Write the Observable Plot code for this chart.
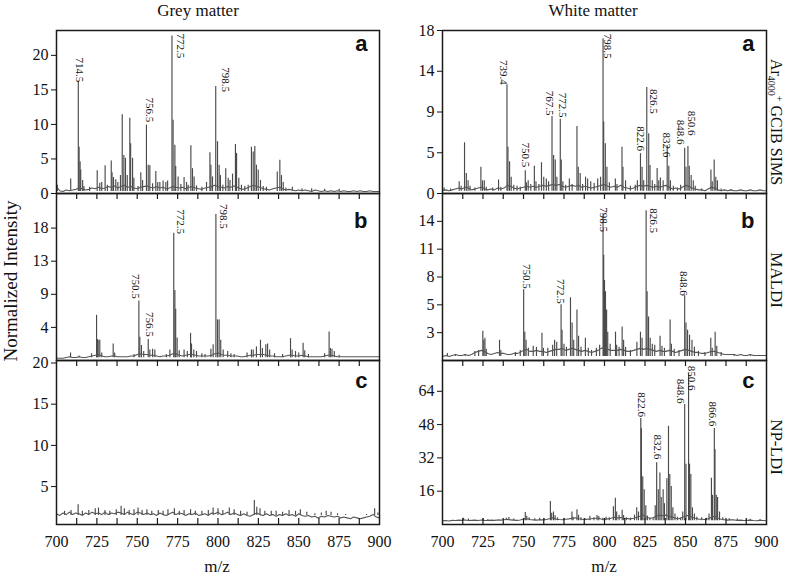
<!DOCTYPE html>
<html><head><meta charset="utf-8">
<script src="https://cdn.jsdelivr.net/npm/d3@7"></script>
<script src="https://cdn.jsdelivr.net/npm/@observablehq/plot@0.6"></script>
<style>
body{margin:0;background:#fff}
#chart{position:relative;width:787px;height:576px;overflow:hidden;background:#fff;font-family:"Liberation Serif","Times New Roman",serif}
</style></head><body><div id="chart"></div>
<script>
// ---------- axis ticks / labels ----------
const xTickValues = [700, 725, 750, 775, 800, 825, 850, 875, 900];
const xTickMarks = [712.5, 725, 737.5, 750, 762.5, 775, 787.5, 800, 812.5, 825, 837.5, 850, 862.5, 875, 887.5];
const mzGrid = d3.range(700, 901, 2); // m/z positions of the baseline trace samples

const greyA_yTicks = [0, 5, 10, 15, 20];
const greyA_yLabels = ["0", "5", "10", "15", "20"];
const greyB_yTicks = [4.4, 8.8, 13.2, 17.6];
const greyB_yLabels = ["4", "9", "13", "18"];
const greyC_yTicks = [5, 10, 15, 20];
const greyC_yLabels = ["5", "10", "15", "20"];
const whiteA_yTicks = [0, 4.5, 9, 13.5, 18];
const whiteA_yLabels = ["0", "5", "9", "14", "18"];
const whiteB_yTicks = [2.75, 5.5, 8.25, 11, 13.75];
const whiteB_yLabels = ["3", "5", "8", "11", "14"];
const whiteC_yTicks = [16, 32, 48, 64];
const whiteC_yLabels = ["16", "32", "48", "64"];

// ---------- Grey matter, a: Ar4000+ GCIB SIMS ----------
const greyA_peaks = [[700.5,1.2],[708.8,2.1],[713.5,16.2],[714.0,6.7],[714.6,4.6],[715.0,3.4],[716.2,1.9],[717,1.0],[720.5,0.9],[725.2,3.3],[726.8,1.5],[728,1.6],[730.1,4.0],[731.5,1.2],[733.9,4.7],[734.4,3.0],[735.3,2.3],[736.7,2.0],[738,1.6],[739.6,2.6],[740.7,11.4],[741.7,5.5],[742.7,5.1],[743.8,2.6],[745.4,10.9],[745.9,7.2],[747.1,5.1],[747.9,2.2],[750.5,1.0],[752.2,3.0],[753.3,1.9],[755.7,9.9],[756.8,4.1],[757.8,4.0],[759.5,1.4],[761.5,3.2],[762.7,1.6],[764,1.6],[766,1.8],[767.7,1.6],[768.8,1.8],[771.5,22.8],[772.2,10.6],[773.3,7.0],[773.8,3.9],[775.3,2.4],[777,1.3],[779,2.3],[780.5,1.6],[781.5,1.2],[783.2,6.9],[784.2,3.6],[785.2,2.4],[786.7,1.1],[790,0.9],[792.9,1.6],[795.0,5.9],[795.6,4.1],[796.6,2.4],[798.6,15.5],[799.7,7.5],[800.7,4.1],[801.5,2.6],[803,1.2],[804.8,3.6],[806.3,2.2],[807.4,1.9],[809,2.8],[810.8,7.1],[811.5,5.8],[812.9,2.2],[814.5,1.2],[816.6,1.0],[818.7,1.2],[820.7,6.7],[821.8,6.0],[822.8,6.8],[823.8,4.1],[824.9,3.4],[826.3,1.9],[828,1.0],[830,0.9],[836.7,3.1],[838.3,4.8],[839.3,2.6],[840.4,1.6],[842,0.8],[846,0.9],[852,0.7],[858,0.7],[866,0.6],[875,0.6]];
const greyA_base = [1.0,0.4,0.3,0.5,0.4,0.5,0.6,0.8,0.7,0.5,0.6,0.8,0.7,0.9,0.7,0.8,1.0,0.9,1.1,0.8,1.0,1.2,0.9,1.0,0.8,0.7,0.9,1.0,1.1,0.9,0.8,1.0,0.8,0.9,0.7,0.8,1.0,0.9,0.8,0.9,0.7,0.9,1.0,0.8,0.7,0.6,0.8,0.9,1.0,1.2,1.0,0.9,0.8,1.0,0.9,1.1,0.9,0.7,0.6,0.8,1.0,1.2,1.0,0.9,0.7,0.6,0.5,0.7,0.8,0.9,0.7,0.5,0.6,0.5,0.4,0.5,0.4,0.5,0.4,0.3,0.5,0.4,0.3,0.4,0.3,0.4,0.3,0.4,0.3,0.4,0.3,0.3,0.4,0.3,0.4,0.3,0.3,0.4,0.3,0.3,0.3];
const greyA_labels = [["714.5",714.1,16.1],["756.5",757.4,10.3],["772.5",776.5,19.6],["798.5",804.8,14.7]];

// ---------- Grey matter, b: MALDI ----------
const greyB_peaks = [[708.7,1.0],[714,0.6],[721.7,0.9],[724.8,6.0],[725.3,2.8],[725.8,2.7],[726.8,2.7],[728,1.0],[735.1,2.2],[736,1.0],[748,0.8],[751.0,7.9],[751.6,3.1],[752.6,2.0],[754,1.2],[756.8,2.8],[757.8,1.4],[759.5,1.5],[760.9,1.4],[768,0.8],[770.2,1.4],[772.6,16.9],[773.3,9.3],[773.8,6.8],[774.7,3.0],[776,1.3],[779,1.4],[781,1.2],[783,3.6],[783.6,2.2],[785,1.4],[786.7,1.2],[790,0.9],[792,0.8],[795.6,1.5],[797,2.1],[798.7,19.4],[799.7,5.4],[800.7,5.4],[801.7,2.7],[803.2,1.4],[806,1.2],[808,0.9],[810,0.8],[818,1.0],[820.7,1.4],[821.8,1.4],[823.8,1.8],[826.3,2.7],[827.5,1.6],[829.6,2.1],[830.7,2.2],[832,1.4],[835,0.9],[840,0.8],[844.9,2.9],[845.9,1.4],[848,1.2],[850,1.0],[852.7,2.3],[853.7,1.3],[856,0.8],[866,0.9],[868.8,3.8],[869.6,1.6],[870.6,1.5],[872,1.2],[875,0.7]];
const greyB_base = [0.3,0.3,0.3,0.4,0.5,0.4,0.4,0.5,0.4,0.4,0.5,0.6,0.7,0.8,0.6,0.5,0.5,0.6,0.6,0.5,0.5,0.5,0.5,0.6,0.6,0.8,0.9,0.8,0.8,0.7,0.7,0.6,0.5,0.6,0.6,0.7,0.9,0.9,0.7,0.6,0.7,0.8,0.8,0.7,0.6,0.6,0.6,0.6,0.7,0.9,1.0,0.8,0.7,0.7,0.6,0.6,0.6,0.5,0.5,0.6,0.7,0.7,0.8,0.8,0.8,0.7,0.6,0.6,0.5,0.5,0.5,0.6,0.7,0.7,0.6,0.6,0.7,0.6,0.5,0.5,0.5,0.5,0.5,0.6,0.7,0.7,0.6,0.5,0.5,0.5,0.5,0.5,0.5,0.5,0.5,0.5,0.5,0.5,0.5,0.5,0.5];
const greyB_labels = [["750.5",749.2,8.2],["756.5",757.9,3.15],["772.5",776.5,16.8],["798.5",803.7,17.5]];

// ---------- Grey matter, c: NP-LDI ----------
const greyC_peaks = [[705,2.0],[709,2.1],[713.4,2.8],[716,2.0],[720,2.1],[724,2.3],[726,2.4],[730,2.1],[733,2.0],[737,2.2],[740,2.6],[742,2.3],[745,2.1],[748,2.2],[750.5,2.4],[753,2.1],[756,2.2],[759,2.0],[763,2.1],[766,2.0],[769,2.2],[773,2.3],[776,2.0],[779,2.1],[783,2.2],[786,2.0],[790,2.0],[794,2.1],[797,2.4],[800,2.3],[803,2.1],[807,2.4],[810,2.2],[814,2.0],[818,1.9],[822.5,3.3],[824,2.5],[826,2.3],[829,2.0],[833,2.0],[836,2.0],[840,1.9],[844,2.1],[848,2.0],[851,2.2],[855,1.9],[860,1.7],[864,1.8],[867,2.0],[870,1.9],[874,1.7],[879,1.6],[884,1.5],[888,1.5],[892,1.6],[897,2.3],[899,1.8]];
const greyC_base = [1.7,1.5,1.8,1.6,1.9,1.6,1.8,1.7,1.5,1.8,1.6,1.9,1.7,1.8,1.6,1.9,1.6,1.8,1.7,1.9,1.8,1.6,1.9,1.7,1.6,1.9,1.8,1.6,1.8,1.6,1.7,1.5,1.8,1.6,1.5,1.7,1.9,1.6,1.8,1.7,1.5,1.7,1.6,1.8,1.5,1.6,1.7,1.5,1.8,1.7,1.9,1.6,1.7,1.9,1.6,1.8,1.6,1.5,1.7,1.5,1.4,1.6,1.8,1.6,1.5,1.7,1.5,1.6,1.4,1.6,1.5,1.7,1.5,1.6,1.4,1.7,1.5,1.4,1.5,1.3,1.4,1.2,1.4,1.3,1.5,1.4,1.3,1.4,1.2,1.3,1.2,1.1,1.3,1.2,1.1,1.2,1.3,1.4,1.6,1.3,1.2];
const greyC_labels = [];

// ---------- White matter, a: Ar4000+ GCIB SIMS ----------
const whiteA_peaks = [[701,0.6],[705,0.5],[710.3,1.3],[711.5,0.8],[713.6,5.6],[714.7,2.2],[715.8,1.4],[717,0.8],[720,0.6],[723.7,2.9],[724.7,1.4],[725.8,1.4],[727,0.7],[731,0.6],[734.6,1.5],[736,0.7],[739.8,12.0],[740.4,5.1],[741.4,3.5],[742.4,1.8],[744,0.9],[746,0.8],[748,0.7],[751.1,2.5],[751.8,1.2],[752.9,1.4],[754.5,1.0],[756.7,3.0],[757.7,1.3],[759.5,1.0],[761.1,3.4],[762.5,1.8],[764.1,1.6],[765.5,1.3],[767.6,8.5],[768.6,4.2],[769.6,3.7],[770.6,1.8],[772.7,8.2],[773.3,3.7],[774.3,1.3],[776,0.9],[778.3,1.6],[780,1.0],[783.0,7.4],[783.8,2.9],[785,2.2],[786.5,1.0],[788.3,1.8],[789.6,1.6],[791.5,1.3],[793.6,1.1],[795.8,1.6],[797.6,1.8],[799.1,17.1],[799.5,7.9],[800.5,5.5],[801.5,2.9],[803,1.2],[806.7,1.6],[807.7,1.0],[810.8,5.1],[811.4,2.9],[813,1.4],[816,0.8],[819,0.9],[820.3,1.4],[822.2,4.4],[823.2,2.9],[824.2,1.4],[826.1,11.7],[827.3,6.6],[828.1,3.1],[829.5,1.4],[831,1.0],[832.5,2.75],[833.5,1.4],[834.5,1.7],[836.2,1.4],[838.7,5.3],[839.7,3.0],[840.7,1.4],[842.5,0.8],[845,0.6],[847,0.9],[849.5,5.0],[850.3,2.9],[851.5,5.2],[852.3,3.0],[853.5,2.0],[854.8,1.4],[856,0.8],[860,0.5],[865.7,2.6],[866.5,1.3],[867.7,3.7],[868.7,1.8],[869.7,1.4],[872,0.5],[878,0.4]];
const whiteA_base = [0.3,0.4,0.3,0.4,0.5,0.6,0.5,0.7,0.6,0.4,0.5,0.6,0.7,0.5,0.4,0.5,0.4,0.6,0.5,0.6,0.9,0.8,0.6,0.5,0.6,0.7,0.8,0.7,0.8,0.7,0.8,0.9,0.8,0.9,1.0,0.9,1.0,0.8,0.7,0.8,0.9,0.8,0.9,0.7,0.8,0.7,0.6,0.7,0.8,0.9,1.0,0.8,0.7,0.8,0.7,0.9,0.7,0.6,0.5,0.6,0.8,0.9,0.8,0.9,0.8,0.7,0.8,0.7,0.8,0.9,0.7,0.5,0.6,0.5,0.7,0.9,0.8,0.6,0.5,0.4,0.4,0.3,0.5,0.7,0.6,0.4,0.3,0.4,0.3,0.4,0.3,0.3,0.4,0.3,0.3,0.4,0.3,0.3,0.4,0.3,0.3];
const whiteA_labels = [["739.4",737.7,12.0],["750.5",751.4,2.9],["767.5",766.2,8.6],["772.5",774.3,8.4],["798.5",801.8,14.9],["822.6",822.2,4.7],["826.5",830.0,8.8],["832.6",838.2,4.0],["848.6",847.2,5.4],["850.6",853.7,6.4]];

// ---------- White matter, b: MALDI ----------
const whiteB_peaks = [[703,0.7],[708,0.6],[714,0.6],[720,0.9],[722.3,1.0],[724.9,2.9],[725.5,2.0],[726.2,2.2],[727,1.1],[735.2,2.0],[736,1.0],[745,0.8],[748,1.0],[750.1,7.0],[750.8,2.8],[751.6,2.0],[753,1.2],[756,1.4],[758,1.3],[761.4,2.7],[762.3,1.2],[765,1.2],[768,1.5],[769.2,2.0],[770.5,1.8],[773.2,5.5],[773.8,3.0],[775,1.6],[776.5,1.3],[779.0,6.2],[780,3.7],[781,2.0],[783.0,5.0],[784,2.4],[785.5,1.3],[788.2,2.2],[790,1.2],[792,1.0],[795,1.2],[797,1.5],[799.1,14.5],[799.5,10.4],[800,7.9],[800.6,6.8],[801.3,5.0],[802,2.8],[803.5,1.6],[806.8,2.8],[807.5,1.5],[809,1.3],[810.9,3.3],[811.8,2.0],[813,1.3],[816,1.0],[820,1.8],[822.2,2.8],[823.2,2.2],[825.7,14.8],[826.3,6.8],[827.2,4.3],[828.2,2.2],[829.5,1.6],[831,1.5],[834.3,2.4],[835.5,1.4],[837,1.2],[840.5,4.0],[841.3,1.6],[843,1.1],[846,1.0],[849.5,6.4],[850.3,3.7],[851.3,3.0],[852.5,2.5],[854,2.0],[855.5,1.3],[858,0.9],[862,0.8],[865.6,2.2],[866.5,1.2],[868.3,2.8],[869.3,1.4],[872,0.8],[880,0.6],[890,0.5]];
const whiteB_base = [0.4,0.5,0.4,0.5,0.6,0.5,0.5,0.6,0.5,0.6,0.8,0.9,1.0,0.9,0.7,0.6,0.7,0.8,0.7,0.7,0.6,0.6,0.7,0.7,0.8,1.0,1.1,0.9,0.9,1.0,0.9,0.9,0.8,0.9,1.0,1.1,1.1,1.2,1.0,1.1,1.2,1.1,1.0,0.9,1.0,0.9,0.8,0.9,1.0,1.2,1.3,1.1,1.0,1.0,1.0,1.1,1.0,0.9,0.9,1.0,1.1,1.2,1.1,1.2,1.1,1.0,0.9,1.0,0.9,0.9,1.0,0.9,0.8,0.9,1.0,1.1,1.0,0.9,0.8,0.8,0.7,0.7,0.8,0.9,0.9,0.8,0.7,0.6,0.6,0.6,0.6,0.5,0.6,0.5,0.5,0.6,0.5,0.5,0.5,0.5,0.5];
const whiteB_labels = [["750.5",751.7,7.1],["772.5",772.6,5.6],["798.5",799.5,12.7],["826.5",830.1,12.6],["848.6",848.6,6.4]];

// ---------- White matter, c: NP-LDI ----------
const whiteC_peaks = [[713,3.0],[716,2.6],[725,2.8],[728,2.4],[739.4,3.0],[741,3.4],[744,2.6],[751.1,5.8],[752,4.0],[753.5,3.3],[757,2.8],[760,3.0],[763,2.7],[766.6,11.0],[767.4,5.4],[768.5,6.0],[769.5,4.2],[771,3.2],[775,2.9],[779.9,6.0],[780.6,3.5],[783,7.1],[784,4.5],[785.5,3.3],[788,2.8],[791,4.0],[793.5,3.2],[795.4,4.3],[796.5,3.8],[799,3.0],[801,3.5],[803,3.2],[805.5,8.5],[806.7,12.6],[807.5,6.0],[809,4.5],[810.9,6.9],[811.8,4.3],[813.5,3.2],[816,3.0],[818.5,4.5],[819.9,8.0],[821,6.0],[822.4,50.9],[822.8,46.0],[823.6,23.0],[824.5,16.7],[825.5,9.0],[826.5,4.0],[828,3.0],[830,2.8],[831.3,9.0],[832.2,29.7],[833.2,16.7],[834.2,24.7],[835,13],[836.2,16.7],[837,10],[838.5,22.0],[839.5,47.2],[840.3,24.0],[841.2,18.3],[842.2,8.0],[843.5,5.0],[845,3.5],[847,3.0],[848.3,6.0],[849.5,57.7],[850.3,29.0],[851.9,72.4],[852.5,29.0],[853.3,24.0],[854.3,8.0],[855.5,5.0],[857,3.5],[860,3.2],[863,3.0],[864.5,5.0],[866,22.2],[866.7,14.0],[867.8,46.1],[868.2,36.0],[869,14.0],[869.8,13.0],[871,6.0],[873,3.2],[877,2.8],[882,2.6],[890,2.5],[896,2.4]];
const whiteC_base = [1.8,1.9,1.7,2.0,1.9,2.1,2.0,2.2,1.9,2.0,2.1,1.9,2.2,2.0,1.9,2.1,2.0,2.2,2.1,2.3,2.5,2.2,2.1,2.0,2.2,2.6,2.8,2.4,2.2,2.1,2.3,2.2,2.4,2.8,3.2,2.6,2.4,2.3,2.5,2.7,3.0,3.2,2.8,2.5,2.4,2.6,2.8,3.0,3.0,2.6,2.5,2.7,3.0,3.5,3.2,3.4,3.0,2.8,2.7,3.0,3.5,4.0,4.5,3.5,3.0,3.2,4.0,4.5,4.2,4.5,4.0,3.5,3.0,2.8,3.5,4.0,4.5,3.5,3.0,2.6,2.5,2.4,2.8,3.5,4.0,3.0,2.5,2.3,2.1,2.3,2.2,2.0,2.1,1.9,2.0,2.1,1.9,1.8,2.0,1.9,1.8];
const whiteC_labels = [["822.6",823.1,51.7],["832.6",832.5,31.3],["848.6",846.9,58.1],["850.6",853.9,64.4],["866.6",866.8,47.2]];

// ---------- drawing ----------
const chart = document.getElementById("chart");
const serif = "'Liberation Serif','Times New Roman',serif";

function drawPanel(c) {
  const frameH = c.H - c.mT - c.mB;
  const yMap = new Map(c.yTicks.map((t, i) => [t, c.yLabels[i]]));
  const marks = [
    Plot.ruleX(c.peaks, {x: d => d[0], y1: c.floor, y2: d => d[1], stroke: "#4a4a4a", strokeWidth: 1.15}),
    Plot.line(c.base, {x: (d, i) => mzGrid[i], y: d => d, stroke: "#555", strokeWidth: 1.1}),
    Plot.text(c.labels, {x: d => d[1], y: d => d[2], text: d => d[0], rotate: 90, textAnchor: "end", lineAnchor: "middle", fontSize: 11, fill: "#111"}),
    Plot.frame({stroke: "#1a1a1a", strokeWidth: 1.5}),
    Plot.text([c.letter], {frameAnchor: "top-right", text: d => d, textAnchor: "end", lineAnchor: "bottom", dx: -12, dy: c.letterDy, fontFamily: "'Liberation Sans',Arial,sans-serif", fontWeight: "bold", fontSize: 22, fill: "#111"})
  ];
  if (c.topTicks) marks.push(Plot.ruleX(xTickMarks, {x: d => d, insetBottom: frameH - 6, stroke: "#1a1a1a", strokeWidth: 1.2}));
  if (c.bottomTicks) marks.push(Plot.ruleX(xTickMarks, {x: d => d, insetTop: frameH - 6, stroke: "#1a1a1a", strokeWidth: 1.2}));
  const svg = Plot.plot({
    width: c.W, height: c.H,
    marginLeft: c.mL, marginRight: c.mR, marginTop: c.mT, marginBottom: c.mB,
    style: {background: "transparent", overflow: "visible", fontFamily: serif, fontSize: "16px", color: "#111"},
    x: {domain: [700, 900], axis: c.showX ? "bottom" : null, ticks: xTickValues, tickFormat: d => String(d), tickSize: 0, tickPadding: 11, label: null},
    y: {domain: c.yDomain, ticks: c.yTicks, tickFormat: d => yMap.get(d), tickSize: 5, tickPadding: 3, label: null},
    marks
  });
  svg.style.position = "absolute";
  svg.style.left = c.left + "px";
  svg.style.top = c.top + "px";
  chart.appendChild(svg);
}

const L = {left: 0, W: 390, mL: 56, mR: 11};
const R = {left: 390, W: 397, mL: 52, mR: 21};
const rowA = {top: 20, H: 183, mT: 10, mB: 10, letter: "a", letterDy: 20, topTicks: false, bottomTicks: false, showX: false};
const rowB = {top: 183, H: 187, mT: 10, mB: 10, letter: "b", letterDy: 34, topTicks: true, bottomTicks: false, showX: false};
const rowC = {top: 350, H: 214, mT: 10, mB: 40, letter: "c", letterDy: 27, topTicks: true, bottomTicks: true, showX: true};

drawPanel({...L, ...rowA, yDomain: [0, 23.6], yTicks: greyA_yTicks, yLabels: greyA_yLabels, peaks: greyA_peaks, base: greyA_base, labels: greyA_labels, floor: 0.3});
drawPanel({...L, ...rowB, yDomain: [0, 22.2], yTicks: greyB_yTicks, yLabels: greyB_yLabels, peaks: greyB_peaks, base: greyB_base, labels: greyB_labels, floor: 0.35});
drawPanel({...L, ...rowC, yDomain: [0.4, 20.3], yTicks: greyC_yTicks, yLabels: greyC_yLabels, peaks: greyC_peaks, base: greyC_base, labels: greyC_labels, floor: 1.5});
drawPanel({...R, ...rowA, yDomain: [0, 18], yTicks: whiteA_yTicks, yLabels: whiteA_yLabels, peaks: whiteA_peaks, base: whiteA_base, labels: whiteA_labels, floor: 0.25});
drawPanel({...R, ...rowB, yDomain: [0, 16.5], yTicks: whiteB_yTicks, yLabels: whiteB_yLabels, peaks: whiteB_peaks, base: whiteB_base, labels: whiteB_labels, floor: 0.4});
drawPanel({...R, ...rowC, yDomain: [0, 78.8], yTicks: whiteC_yTicks, yLabels: whiteC_yLabels, peaks: whiteC_peaks, base: whiteC_base, labels: whiteC_labels, floor: 1.8});

// ---------- titles and axis labels ----------
const ov = d3.select(chart).append("svg")
  .attr("width", 787).attr("height", 576)
  .style("position", "absolute").style("left", "0px").style("top", "0px")
  .style("pointer-events", "none")
  .attr("font-family", serif).attr("fill", "#111");

ov.append("text").attr("x", 198).attr("y", 16).attr("text-anchor", "middle").attr("font-size", 17).text("Grey matter");
ov.append("text").attr("x", 593).attr("y", 16).attr("text-anchor", "middle").attr("font-size", 17).text("White matter");
ov.append("text").attr("transform", "translate(17,281) rotate(-90)").attr("text-anchor", "middle").attr("font-size", 19).text("Normalized Intensity");
ov.append("text").attr("x", 217).attr("y", 572).attr("text-anchor", "middle").attr("font-size", 17).text("m/z");
ov.append("text").attr("x", 604).attr("y", 572).attr("text-anchor", "middle").attr("font-size", 17).text("m/z");

const sims = ov.append("text").attr("transform", "translate(771,122) rotate(90)").attr("text-anchor", "middle").attr("font-size", 16);
sims.append("tspan").text("Ar");
sims.append("tspan").attr("font-size", 10).attr("dy", 3).text("4000");
sims.append("tspan").attr("font-size", 10).attr("dy", -8).text("+");
sims.append("tspan").attr("dy", 5).text(" GCIB SIMS");
ov.append("text").attr("transform", "translate(771,280) rotate(90)").attr("text-anchor", "middle").attr("font-size", 17).text("MALDI");
ov.append("text").attr("transform", "translate(771,447) rotate(90)").attr("text-anchor", "middle").attr("font-size", 17).text("NP-LDI");
</script></body></html>
